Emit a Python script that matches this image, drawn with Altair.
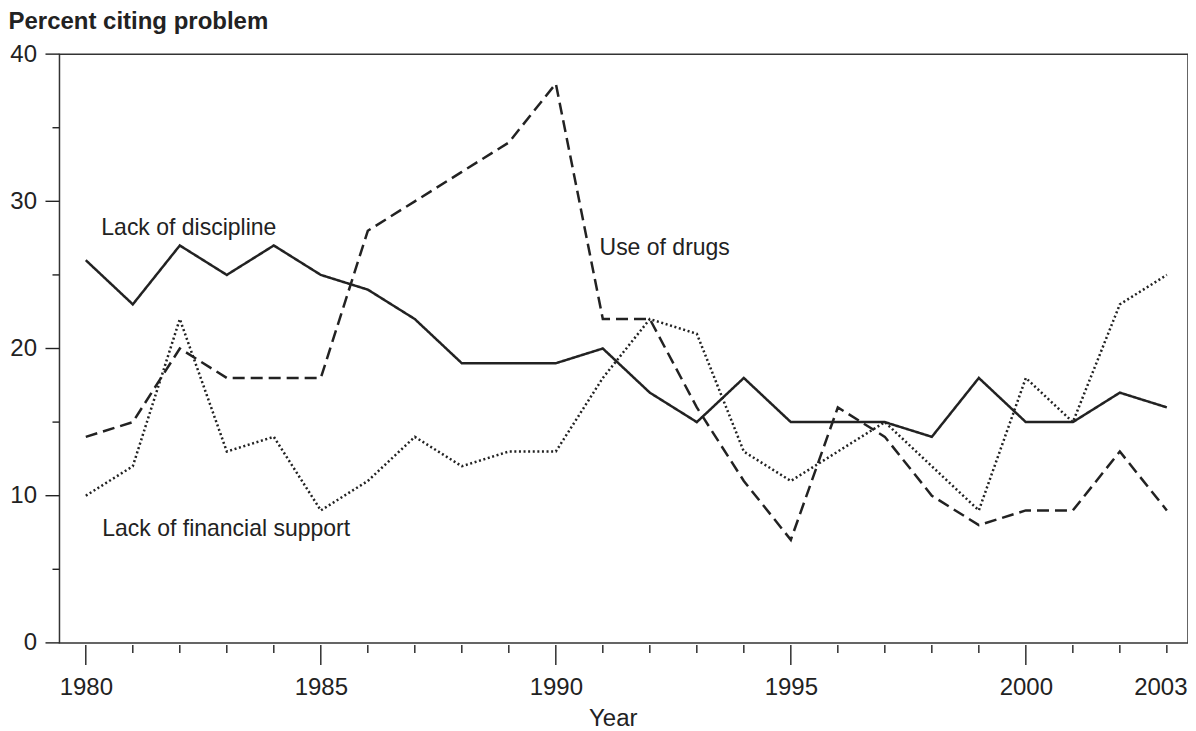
import altair as alt
import pandas as pd

years = list(range(1980, 2004))
discipline = [26, 23, 27, 25, 27, 25, 24, 22, 19, 19, 19, 20, 17, 15, 18, 15, 15, 15, 14, 18, 15, 15, 17, 16]
drugs = [14, 15, 20, 18, 18, 18, 28, 30, 32, 34, 38, 22, 22, 16, 11, 7, 16, 14, 10, 8, 9, 9, 13, 9]
financial = [10, 12, 22, 13, 14, 9, 11, 14, 12, 13, 13, 18, 22, 21, 13, 11, 13, 15, 12, 9, 18, 15, 23, 25]

series_names = ["Lack of discipline", "Use of drugs", "Lack of financial support"]
x_label_values = [1980, 1985, 1990, 1995, 2000, 2003]
x_major_ticks = [1980, 1985, 1990, 1995, 2000]
x_minor_ticks = [y for y in years if y not in x_major_ticks]
y_major_ticks = [0, 10, 20, 30, 40]
y_minor_ticks = [5, 15, 25, 35]

rows = []
for name, vals in zip(series_names, [discipline, drugs, financial]):
    for yr, v in zip(years, vals):
        rows.append({"Year": yr, "Percent": v, "Series": name})
df = pd.DataFrame(rows)

W, H = 1129, 589
FONT = "Liberation Sans"
INK = "#222222"

xscale = alt.Scale(domain=[1979.44, 2003.45], nice=False, zero=False)
yscale = alt.Scale(domain=[0, 40], nice=False, zero=True)

lines = alt.Chart(df).mark_line(color=INK, strokeWidth=2.5).encode(
    x=alt.X("Year:Q", scale=xscale,
            axis=alt.Axis(values=x_label_values, format="d", ticks=False, domain=False,
                          grid=False, labelPadding=33, labelFontSize=24, labelFont=FONT,
                          labelColor=INK, labelFlush=False,
                          labelOffset={"condition": {"test": "datum.value === 2003", "value": -6.5},
                                       "value": 0},
                          title="Year", titleFont=FONT, titleFontSize=24, titleFontWeight="normal",
                          titleColor=INK, titleX=553.5, titleY=83, titleAlign="center",
                          titleBaseline="alphabetic")),
    y=alt.Y("Percent:Q", scale=yscale,
            axis=alt.Axis(values=y_major_ticks, ticks=False, domain=False, grid=False,
                          labelPadding=23, labelFontSize=24, labelFont=FONT, labelColor=INK,
                          labelBaseline="middle",
                          title="Percent citing problem", titleFont=FONT, titleFontSize=24,
                          titleFontWeight="bold", titleColor=INK, titleAngle=0,
                          titleX=-51.5, titleY=-26, titleAlign="left",
                          titleBaseline="alphabetic")),
    strokeDash=alt.StrokeDash("Series:N",
                              scale=alt.Scale(domain=series_names,
                                              range=[[1, 0], [12, 6], [2, 2.6]]),
                              legend=None),
    detail="Series:N",
)

xt_major = alt.Chart(pd.DataFrame({"t": x_major_ticks})).mark_rule(color=INK, strokeWidth=1.4).encode(
    x=alt.X("t:Q", scale=xscale), y=alt.value(H + 2), y2=alt.value(H + 22))
xt_minor = alt.Chart(pd.DataFrame({"t": x_minor_ticks})).mark_rule(color=INK, strokeWidth=1.4).encode(
    x=alt.X("t:Q", scale=xscale), y=alt.value(H + 2), y2=alt.value(H + 10))
yt_major = alt.Chart(pd.DataFrame({"t": y_major_ticks})).mark_rule(color=INK, strokeWidth=1.4).encode(
    y=alt.Y("t:Q", scale=yscale), x=alt.value(-14), x2=alt.value(0))
yt_minor = alt.Chart(pd.DataFrame({"t": y_minor_ticks})).mark_rule(color=INK, strokeWidth=1.4).encode(
    y=alt.Y("t:Q", scale=yscale), x=alt.value(-7), x2=alt.value(0))

def label(text, xv, yv):
    return alt.Chart(pd.DataFrame({"a": [0]})).mark_text(
        text=text, align="left", baseline="alphabetic", font=FONT, fontSize=23, color=INK
    ).encode(x=alt.datum(xv), y=alt.datum(yv))

lab1 = label("Lack of discipline", 1980.33, 27.7)
lab2 = label("Use of drugs", 1990.93, 26.35)
lab3 = label("Lack of financial support", 1980.35, 7.27)

chart = alt.layer(lines, xt_major, xt_minor, yt_major, yt_minor, lab1, lab2, lab3).properties(
    width=W, height=H,
    autosize=alt.AutoSizeParams(type="none"),
    padding={"left": 51.5, "top": 46, "right": 0, "bottom": 90},
    background="white",
).configure_view(stroke="#333333", strokeWidth=1.5)

chart.save("out.html", embed_options={"renderer": "svg", "actions": False})
